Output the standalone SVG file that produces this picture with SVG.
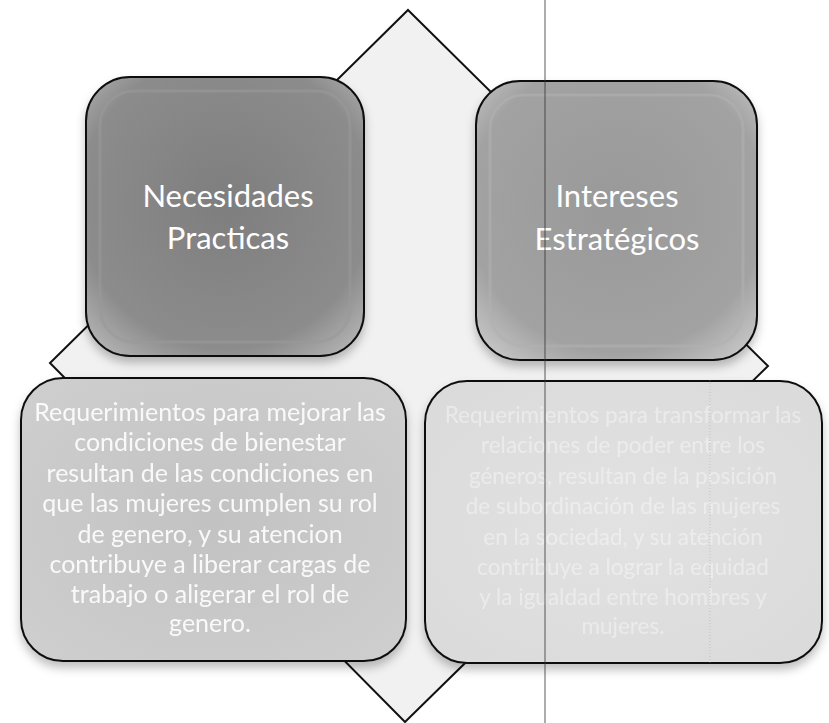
<svg xmlns="http://www.w3.org/2000/svg" width="829" height="723" viewBox="0 0 829 723">
<!-- NOTE: the text of the bottom-right box is illegible in the reference scan; the wording below is a reconstruction (guess), not a transcription. -->
<style>
.title{font-family:Lato,"Open Sans","Liberation Sans",sans-serif;font-size:31px;fill:#ffffff;text-anchor:middle}
.body{font-family:Lato,"Open Sans","Liberation Sans",sans-serif;font-size:25px;fill:#ffffff;text-anchor:middle}
.body2{font-family:Lato,"Open Sans","Liberation Sans",sans-serif;font-size:22.5px;fill:#ffffff;text-anchor:middle}
.outline{stroke:#111;stroke-width:2;}
</style>
<defs>
<filter id="sh" x="-10%" y="-10%" width="125%" height="125%">
<feDropShadow dx="0" dy="6" stdDeviation="5" flood-color="#000" flood-opacity="0.25"/>
</filter>
<radialGradient id="gTL" cx="0.5" cy="0.45" r="0.7">
<stop offset="0" stop-color="#7e7e7e"/>
<stop offset="0.75" stop-color="#8c8c8c"/>
<stop offset="1" stop-color="#b5b5b5"/>
</radialGradient>
<radialGradient id="gTR" cx="0.5" cy="0.45" r="0.7">
<stop offset="0" stop-color="#999"/>
<stop offset="0.75" stop-color="#a2a2a2"/>
<stop offset="1" stop-color="#c8c8c8"/>
</radialGradient>
<radialGradient id="gBL" cx="0.5" cy="0.5" r="0.7">
<stop offset="0" stop-color="#c2c2c2"/>
<stop offset="1" stop-color="#cfcfcf"/>
</radialGradient>
<radialGradient id="gBR" cx="0.5" cy="0.5" r="0.7">
<stop offset="0" stop-color="#e2e2e2"/>
<stop offset="1" stop-color="#dadada"/>
</radialGradient>
</defs>
<rect width="829" height="723" fill="#ffffff"/>
<g id="connectors">
<polygon points="408,10 768,366 405,722 50,363" fill="#f1f1f1" class="outline"/>
</g>
<g id="node-necesidades">
<rect x="86" y="77" width="278" height="279" rx="44" fill="url(#gTL)" class="outline" filter="url(#sh)"/>
<rect x="100" y="91" width="250" height="251" rx="34" fill="none" stroke="#9a9a9a" stroke-width="3" opacity="0.6"/>
<text class="title" x="228" y="207">Necesidades</text>
<text class="title" x="228" y="249">Practicas</text>
</g>
<g id="node-intereses">
<rect x="476" y="81" width="281" height="279" rx="44" fill="url(#gTR)" class="outline" filter="url(#sh)"/>
<rect x="490" y="95" width="253" height="251" rx="34" fill="none" stroke="#b0b0b0" stroke-width="3" opacity="0.6"/>
<text class="title" x="617" y="207">Intereses</text>
<text class="title" x="617" y="250">Estratégicos</text>
</g>
<g id="node-requerimientos-practicas">
<rect x="21" y="378" width="385" height="283" rx="42" fill="url(#gBL)" class="outline" filter="url(#sh)"/>
<g opacity="0.9">
<text class="body" x="210" y="421">Requerimientos para mejorar las</text>
<text class="body" x="210" y="451">condiciones de bienestar</text>
<text class="body" x="210" y="482">resultan de las condiciones en</text>
<text class="body" x="210" y="512">que las mujeres cumplen su rol</text>
<text class="body" x="210" y="543">de genero, y su atencion</text>
<text class="body" x="210" y="573">contribuye a liberar cargas de</text>
<text class="body" x="210" y="603">trabajo o aligerar el rol de</text>
<text class="body" x="210" y="632">genero.</text>
</g>
</g>
<g id="node-requerimientos-estrategicos">
<rect x="425" y="381" width="397" height="282" rx="42" fill="url(#gBR)" class="outline" filter="url(#sh)"/>
<g opacity="0.4">
<text class="body2" x="623" y="423">Requerimientos para transformar las</text>
<text class="body2" x="623" y="453">relaciones de poder entre los</text>
<text class="body2" x="623" y="484">géneros, resultan de la posición</text>
<text class="body2" x="623" y="514">de subordinación de las mujeres</text>
<text class="body2" x="623" y="545">en la sociedad, y su atención</text>
<text class="body2" x="623" y="575">contribuye a lograr la equidad</text>
<text class="body2" x="623" y="605">y la igualdad entre hombres y</text>
<text class="body2" x="623" y="634">mujeres.</text>
</g>
</g>
<line x1="545" y1="0" x2="545" y2="723" stroke="#333" stroke-width="1" opacity="0.8"/>
<line x1="710" y1="380" x2="710" y2="665" stroke="#999" stroke-width="1" opacity="0.4" stroke-dasharray="1,2"/>
</svg>
